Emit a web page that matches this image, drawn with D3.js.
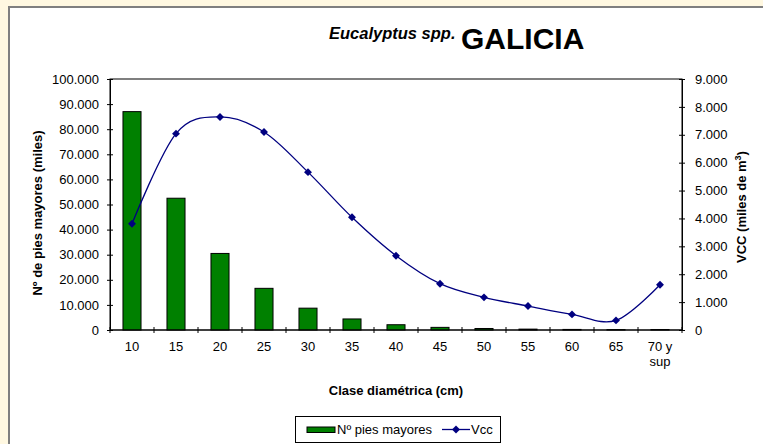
<!DOCTYPE html>
<html>
<head>
<meta charset="utf-8">
<script src="https://cdn.jsdelivr.net/npm/d3@7"></script>
<style>
  body { margin: 0; background: #fff8e1; }
  svg { display: block; font-family: "Liberation Sans", Arial, sans-serif; }
</style>
</head>
<body>
<div id="chart"></div>
<script>
// data
let categories = ["10","15","20","25","30","35","40","45","50","55","60","65","70 y\nsup"];
let pies = [87000, 52500, 30500, 16600, 8700, 4400, 2100, 1050, 600, 350, 230, 150, 200];
let vcc = [3810, 7040, 7640, 7100, 5660, 4040, 2665, 1660, 1170, 860, 560, 345, 1625];
let leftTicks = [0,10000,20000,30000,40000,50000,60000,70000,80000,90000,100000];
let rightTicks = [0,1000,2000,3000,4000,5000,6000,7000,8000,9000];

let W = 763, H = 444;
let plot = {left: 110, right: 682, top: 79, bottom: 330};

let locale = d3.formatLocale({decimal: ",", thousands: ".", grouping: [3], currency: ["", "€"]});
let fmt = locale.format(",d");

let svg = d3.select("#chart").append("svg")
    .attr("width", W)
    .attr("height", H);

// outer frame
svg.append("rect")
    .attr("x", 9).attr("y", 7)
    .attr("width", W).attr("height", H)
    .attr("fill", "#fff")
    .attr("stroke", "#7f7f7f")
    .attr("stroke-width", 2);

let x = d3.scaleBand()
    .domain(categories)
    .range([plot.left, plot.right])
    .padding(0);

let yLeft = d3.scaleLinear()
    .domain([0, 100000])
    .range([plot.bottom, plot.top]);

let yRight = d3.scaleLinear()
    .domain([0, 9000])
    .range([plot.bottom, plot.top]);

// plot area
svg.append("rect")
    .attr("x", plot.left).attr("y", plot.top)
    .attr("width", plot.right - plot.left)
    .attr("height", plot.bottom - plot.top)
    .attr("fill", "#fff")
    .attr("stroke", "#000");

// bars
let barW = x.bandwidth() * 0.41;
svg.append("g").selectAll("rect")
    .data(pies)
    .join("rect")
    .attr("x", (d, i) => x(categories[i]) + (x.bandwidth() - barW) / 2)
    .attr("y", d => yLeft(d))
    .attr("width", barW)
    .attr("height", d => plot.bottom - yLeft(d))
    .attr("fill", "#008000")
    .attr("stroke", "#000")
    .attr("stroke-width", 1);

// left axis
let gl = svg.append("g")
    .attr("transform", `translate(${plot.left},0)`)
    .call(d3.axisLeft(yLeft).tickValues(leftTicks).tickFormat(fmt)
        .tickSizeInner(3).tickSizeOuter(0).tickPadding(8));
gl.selectAll(".tick line").attr("x1", 3);

// right axis
let gr = svg.append("g")
    .attr("transform", `translate(${plot.right},0)`)
    .call(d3.axisRight(yRight).tickValues(rightTicks).tickFormat(fmt)
        .tickSizeInner(3).tickSizeOuter(0).tickPadding(10));
gr.selectAll(".tick line").attr("x1", -3);

[gl, gr].forEach(g => {
    g.attr("font-family", null).attr("font-size", null);
    g.selectAll("text").attr("fill", "#000").style("font-size", "13px");
    g.selectAll("line, path").attr("stroke", "#000");
});

// x axis: ticks between categories
let gx = svg.append("g");
gx.append("line")
    .attr("x1", plot.left).attr("x2", plot.right)
    .attr("y1", plot.bottom).attr("y2", plot.bottom)
    .attr("stroke", "#000");
d3.range(categories.length + 1).forEach(i => {
    let xx = plot.left + i * x.step();
    gx.append("line")
        .attr("x1", xx).attr("x2", xx)
        .attr("y1", plot.bottom - 3).attr("y2", plot.bottom + 3)
        .attr("stroke", "#000");
});
categories.forEach(c => {
    let t = gx.append("text")
        .attr("x", x(c) + x.bandwidth() / 2)
        .attr("y", 351)
        .attr("text-anchor", "middle")
        .style("font-size", "13px");
    c.split("\n").forEach((s, j) => {
        t.append("tspan")
            .attr("x", x(c) + x.bandwidth() / 2)
            .attr("dy", j ? 15 : 0)
            .text(s);
    });
});

// Vcc line
let line = d3.line()
    .x((d, i) => x(categories[i]) + x.bandwidth() / 2)
    .y(d => yRight(d))
    .curve(d3.curveCatmullRom.alpha(0));

svg.append("path")
    .datum(vcc)
    .attr("d", line)
    .attr("fill", "none")
    .attr("stroke", "#000080")
    .attr("stroke-width", 1.3);

let diamond = d3.symbol().type(d3.symbolDiamond2).size(40);
svg.append("g").selectAll("path")
    .data(vcc)
    .join("path")
    .attr("transform", (d, i) => `translate(${x(categories[i]) + x.bandwidth() / 2},${yRight(d)})`)
    .attr("d", diamond)
    .attr("fill", "#000080");

// titles
let title = svg.append("text")
    .attr("x", 329)
    .attr("y", 48.5);
title.append("tspan")
    .attr("dy", -10)
    .style("font-size", "16.5px")
    .style("font-weight", "bold")
    .style("font-style", "italic")
    .text("Eucalyptus spp.");
title.append("tspan")
    .attr("x", 461)
    .attr("dy", 10)
    .style("font-size", "30px")
    .style("font-weight", "bold")
    .text("GALICIA");

svg.append("text")
    .attr("transform", "translate(42,213) rotate(-90)")
    .attr("text-anchor", "middle")
    .style("font-size", "13px")
    .style("font-weight", "bold")
    .text("Nº de pies mayores (miles)");

let rt = svg.append("text")
    .attr("transform", "translate(746,207) rotate(-90)")
    .attr("text-anchor", "middle")
    .style("font-size", "13px")
    .style("font-weight", "bold");
rt.append("tspan").text("VCC (miles de m");
rt.append("tspan").attr("dy", -5).style("font-size", "9px").text("3");
rt.append("tspan").attr("dy", 5).text(")");

svg.append("text")
    .attr("x", (plot.left + plot.right) / 2)
    .attr("y", 395)
    .attr("text-anchor", "middle")
    .style("font-size", "13px")
    .style("font-weight", "bold")
    .text("Clase diamétrica (cm)");

// legend
let lg = svg.append("g");
lg.append("rect")
    .attr("x", 295.5).attr("y", 416.5)
    .attr("width", 205).attr("height", 26)
    .attr("fill", "#fff")
    .attr("stroke", "#000");
lg.append("rect")
    .attr("x", 307).attr("y", 427)
    .attr("width", 28).attr("height", 5.5)
    .attr("fill", "#008000")
    .attr("stroke", "#000");
lg.append("text")
    .attr("x", 337).attr("y", 434)
    .style("font-size", "13px")
    .text("Nº pies mayores");
lg.append("line")
    .attr("x1", 442).attr("x2", 470)
    .attr("y1", 429.5).attr("y2", 429.5)
    .attr("stroke", "#000080")
    .attr("stroke-width", 1.3);
lg.append("path")
    .attr("transform", "translate(456,429.5)")
    .attr("d", diamond)
    .attr("fill", "#000080");
lg.append("text")
    .attr("x", 471).attr("y", 434)
    .style("font-size", "13px")
    .text("Vcc");
</script>
</body>
</html>
